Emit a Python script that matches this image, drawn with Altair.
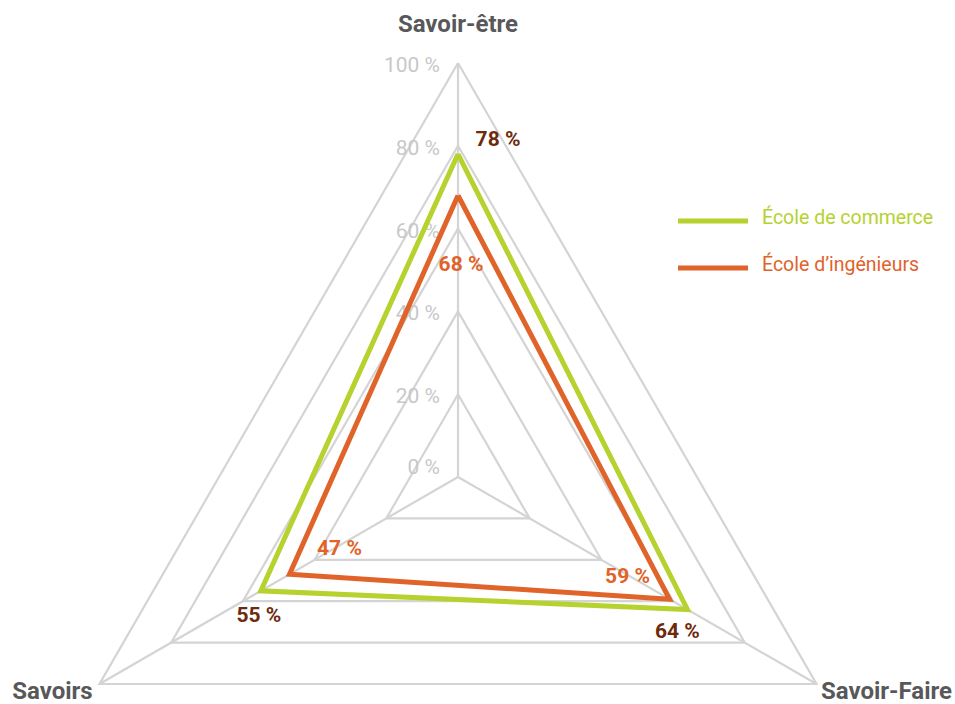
import math
import altair as alt
import pandas as pd

# ---------------- data ----------------
categories = ["Savoir-être", "Savoir-Faire", "Savoirs"]
angles_deg = [0, 120, 240]
series_names = ["École de commerce", "École d’ingénieurs"]
ecole_commerce = [78, 64, 55]
ecole_ingenieurs = [68, 59, 47]
grid_levels = [20, 40, 60, 80, 100]
tick_levels = [0, 20, 40, 60, 80, 100]
tick_labels = ["0 %", "20 %", "40 %", "60 %", "80 %", "100 %"]

# ---------------- styles ----------------
GREEN = "#b5d22f"
ORANGE = "#e0632a"
BROWN = "#6e2a0c"
GRID = "#d4d4d4"
TICK = "#c8c8ca"
CAT = "#58585a"
FONT = "Roboto"

series_values = [ecole_commerce, ecole_ingenieurs]
series_colors = [GREEN, ORANGE]
label_colors = [BROWN, ORANGE]

# pixel offsets of value labels (series index, category index)
label_offsets = {
    (0, 0): (40, -14), (0, 1): (-10, 23), (0, 2): (-2, 25),
    (1, 0): (3, 70), (1, 1): (-42, -22), (1, 2): (50, -25),
}
cat_offsets = [(0, -38), (70, 8), (-47, 8)]

X = alt.X("x:Q", scale=alt.Scale(domain=[-110.63, 120.05], nice=False, zero=False), axis=None)
Y = alt.Y("y:Q", scale=alt.Scale(domain=[-54.83, 115.22], nice=False, zero=False), axis=None)

xy = dict(x="datum.r * sin(datum.angle * PI / 180)", y="datum.r * cos(datum.angle * PI / 180)")

# grid polygons
grid_rows = []
for lv in grid_levels:
    for i in range(4):
        grid_rows.append({"level": lv, "idx": i, "r": lv, "angle": angles_deg[i % 3]})
grid = alt.Chart(pd.DataFrame(grid_rows)).transform_calculate(**xy).mark_line(
    color=GRID, strokeWidth=2.2, strokeJoin="miter"
).encode(x=X, y=Y, detail="level:N", order="idx:Q")

# spokes
spoke_df = pd.DataFrame({"category": categories, "angle": angles_deg, "r": [100] * 3})
spokes = alt.Chart(spoke_df).transform_calculate(
    x="0", y="0",
    x2="datum.r * sin(datum.angle * PI / 180)",
    y2="datum.r * cos(datum.angle * PI / 180)",
).mark_rule(color=GRID, strokeWidth=2.2).encode(x=X, y=Y, x2="x2:Q", y2="y2:Q")

# tick labels along the top spoke
tick_df = pd.DataFrame({"r": tick_levels, "label": tick_labels, "angle": 0})
ticks = alt.Chart(tick_df).transform_filter("datum.r > 0").transform_calculate(**xy).mark_text(
    align="right", baseline="middle", dx=-18, dy=3, font=FONT, fontSize=21, color=TICK
).encode(x=X, y=Y, text="label:N")
tick0 = alt.Chart(tick_df).transform_filter("datum.r == 0").transform_calculate(**xy).mark_text(
    align="right", baseline="middle", dx=-18, dy=-9, font=FONT, fontSize=21, color=TICK
).encode(x=X, y=Y, text="label:N")

# series lines (closed)
series_rows = []
for s, name in enumerate(series_names):
    vals = series_values[s]
    for i in range(4):
        series_rows.append({"series": name, "idx": i, "r": vals[i % 3], "angle": angles_deg[i % 3]})
series_df = pd.DataFrame(series_rows)
lines = alt.Chart(series_df).transform_calculate(**xy).mark_line(
    strokeWidth=5, strokeJoin="miter", strokeMiterLimit=20
).encode(
    x=X, y=Y, order="idx:Q",
    color=alt.Color("series:N", scale=alt.Scale(domain=series_names, range=series_colors), legend=None),
)

# value labels
value_layers = []
for s, name in enumerate(series_names):
    for c, cat in enumerate(categories):
        v = series_values[s][c]
        df = pd.DataFrame([{"r": v, "angle": angles_deg[c], "label": f"{v} %"}])
        dx, dy = label_offsets[(s, c)]
        value_layers.append(
            alt.Chart(df).transform_calculate(**xy).mark_text(
                align="center", baseline="middle", dx=dx, dy=dy,
                font=FONT, fontSize=21, fontWeight="bold", color=label_colors[s]
            ).encode(x=X, y=Y, text="label:N")
        )

# category labels
cat_layers = []
for c, cat in enumerate(categories):
    df = pd.DataFrame([{"r": 100, "angle": angles_deg[c], "label": cat}])
    dx, dy = cat_offsets[c]
    cat_layers.append(
        alt.Chart(df).transform_calculate(**xy).mark_text(
            align="center", baseline="middle", dx=dx, dy=dy,
            font=FONT, fontSize=24, fontWeight="bold", color=CAT
        ).encode(x=X, y=Y, text="label:N")
    )

# manual legend
legend_layers = []
for s, name in enumerate(series_names):
    ypix = 221 + 47 * s
    df = pd.DataFrame([{"name": name}])
    legend_layers.append(
        alt.Chart(df).mark_rule(color=series_colors[s], strokeWidth=5).encode(
            x=alt.value(678), x2=alt.value(748), y=alt.value(ypix)
        )
    )
    legend_layers.append(
        alt.Chart(df).mark_text(
            align="left", baseline="middle", font=FONT, fontSize=19.5, color=series_colors[s]
        ).encode(x=alt.value(762), y=alt.value(ypix - 3), text="name:N")
    )

chart = alt.layer(
    grid, spokes, ticks, tick0, lines, *value_layers, *cat_layers, *legend_layers
).properties(
    width=955, height=704, autosize=alt.AutoSizeParams(type="none"), padding=0
).configure_view(stroke=None)

chart.save("out.html", embed_options={"renderer": "svg", "actions": False})
